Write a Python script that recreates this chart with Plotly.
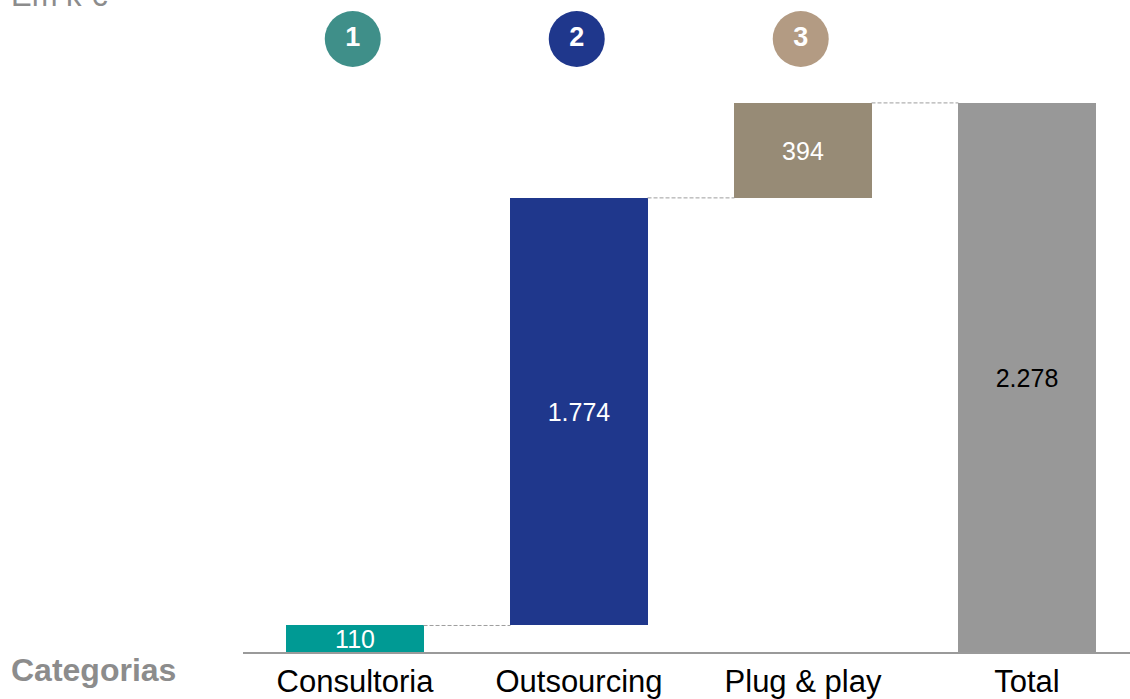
import plotly.graph_objects as go

categories = ["Consultoria", "Outsourcing", "Plug & play", "Total"]
values = [110, 1774, 394, 2278]
measures = ["relative", "relative", "relative", "total"]
bar_colors = ["#009A94", "#1F378C", "#978B76", "#989898"]
label_colors = ["white", "white", "white", "black"]
badge_labels = ["1", "2", "3"]
badge_colors = ["#3F8F89", "#1F378C", "#B39B83"]

W, H = 1130, 699

# compute bases for waterfall-like bars
bases, tops = [], []
run = 0
for v, m in zip(values, measures):
    if m == "total":
        bases.append(0)
        tops.append(v)
        run = v
    else:
        bases.append(run)
        run += v
        tops.append(run)

def fmt(v):
    return f"{v:,}".replace(",", ".")

xs = list(range(len(categories)))
bar_w = 0.612

fig = go.Figure()
fig.add_trace(go.Bar(
    x=xs, y=values, base=bases, width=bar_w,
    marker=dict(color=bar_colors, line=dict(width=0)),
    text=[fmt(v) for v in values], textposition="inside",
    insidetextanchor="middle", constraintext="none",
    textfont=dict(family="Liberation Sans, Arial", size=25, color=label_colors),
    textangle=0, cliponaxis=False, showlegend=False, hoverinfo="skip",
))

# badge circles above first three categories
ymax = 2705
badge_y = ymax * (1 - 39 / 652)
fig.add_trace(go.Scatter(
    x=[x - 0.01 for x in xs[:3]], y=[badge_y] * 3, mode="markers+text",
    marker=dict(size=56, color=badge_colors, line=dict(width=0)),
    text=badge_labels, textposition="middle center",
    textfont=dict(family="Liberation Sans, Arial", size=27, color="white", weight="bold"),
    cliponaxis=False, showlegend=False, hoverinfo="skip",
))

# connectors
shapes = []
for i in range(len(values) - 1):
    shapes.append(dict(
        type="line", xref="x", yref="y",
        x0=xs[i] + bar_w / 2, x1=xs[i + 1] - bar_w / 2,
        y0=tops[i], y1=tops[i],
        line=dict(color="#9E9E9E", width=1, dash="4px,2px"),
    ))

fig.update_layout(
    width=W, height=H,
    margin=dict(l=0, r=0, t=0, b=0),
    paper_bgcolor="white", plot_bgcolor="white",
    bargap=0,
    shapes=shapes,
    xaxis=dict(
        domain=[243 / W, 1], range=[-0.5, 3.46],
        tickmode="array", tickvals=xs, ticktext=categories,
        tickfont=dict(family="Liberation Sans, Arial", size=31, color="black"),
        showline=True, linecolor="#9A9A9A", linewidth=2,
        ticks="outside", ticklen=1, tickcolor="rgba(0,0,0,0)",
        showgrid=False, zeroline=False, automargin=False,
    ),
    yaxis=dict(
        domain=[1 - 652 / H, 1], range=[0, ymax],
        visible=False, showgrid=False, zeroline=False, automargin=False,
    ),
    annotations=[
        dict(text="Em k €", xref="paper", yref="paper", x=9 / W, y=1 - 15 / H,
             xanchor="left", yanchor="bottom", showarrow=False,
             font=dict(family="Liberation Sans, Arial", size=31, color="#8C8C8C")),
        dict(text="<b>Categorias</b><br><b>importantes</b>", xref="paper", yref="paper",
             x=9 / W, y=1 - 650 / H, xanchor="left", yanchor="top", align="left",
             showarrow=False,
             font=dict(family="Liberation Sans, Arial", size=32, color="#8C8C8C")),
    ],
)

fig.write_html("out.html")
